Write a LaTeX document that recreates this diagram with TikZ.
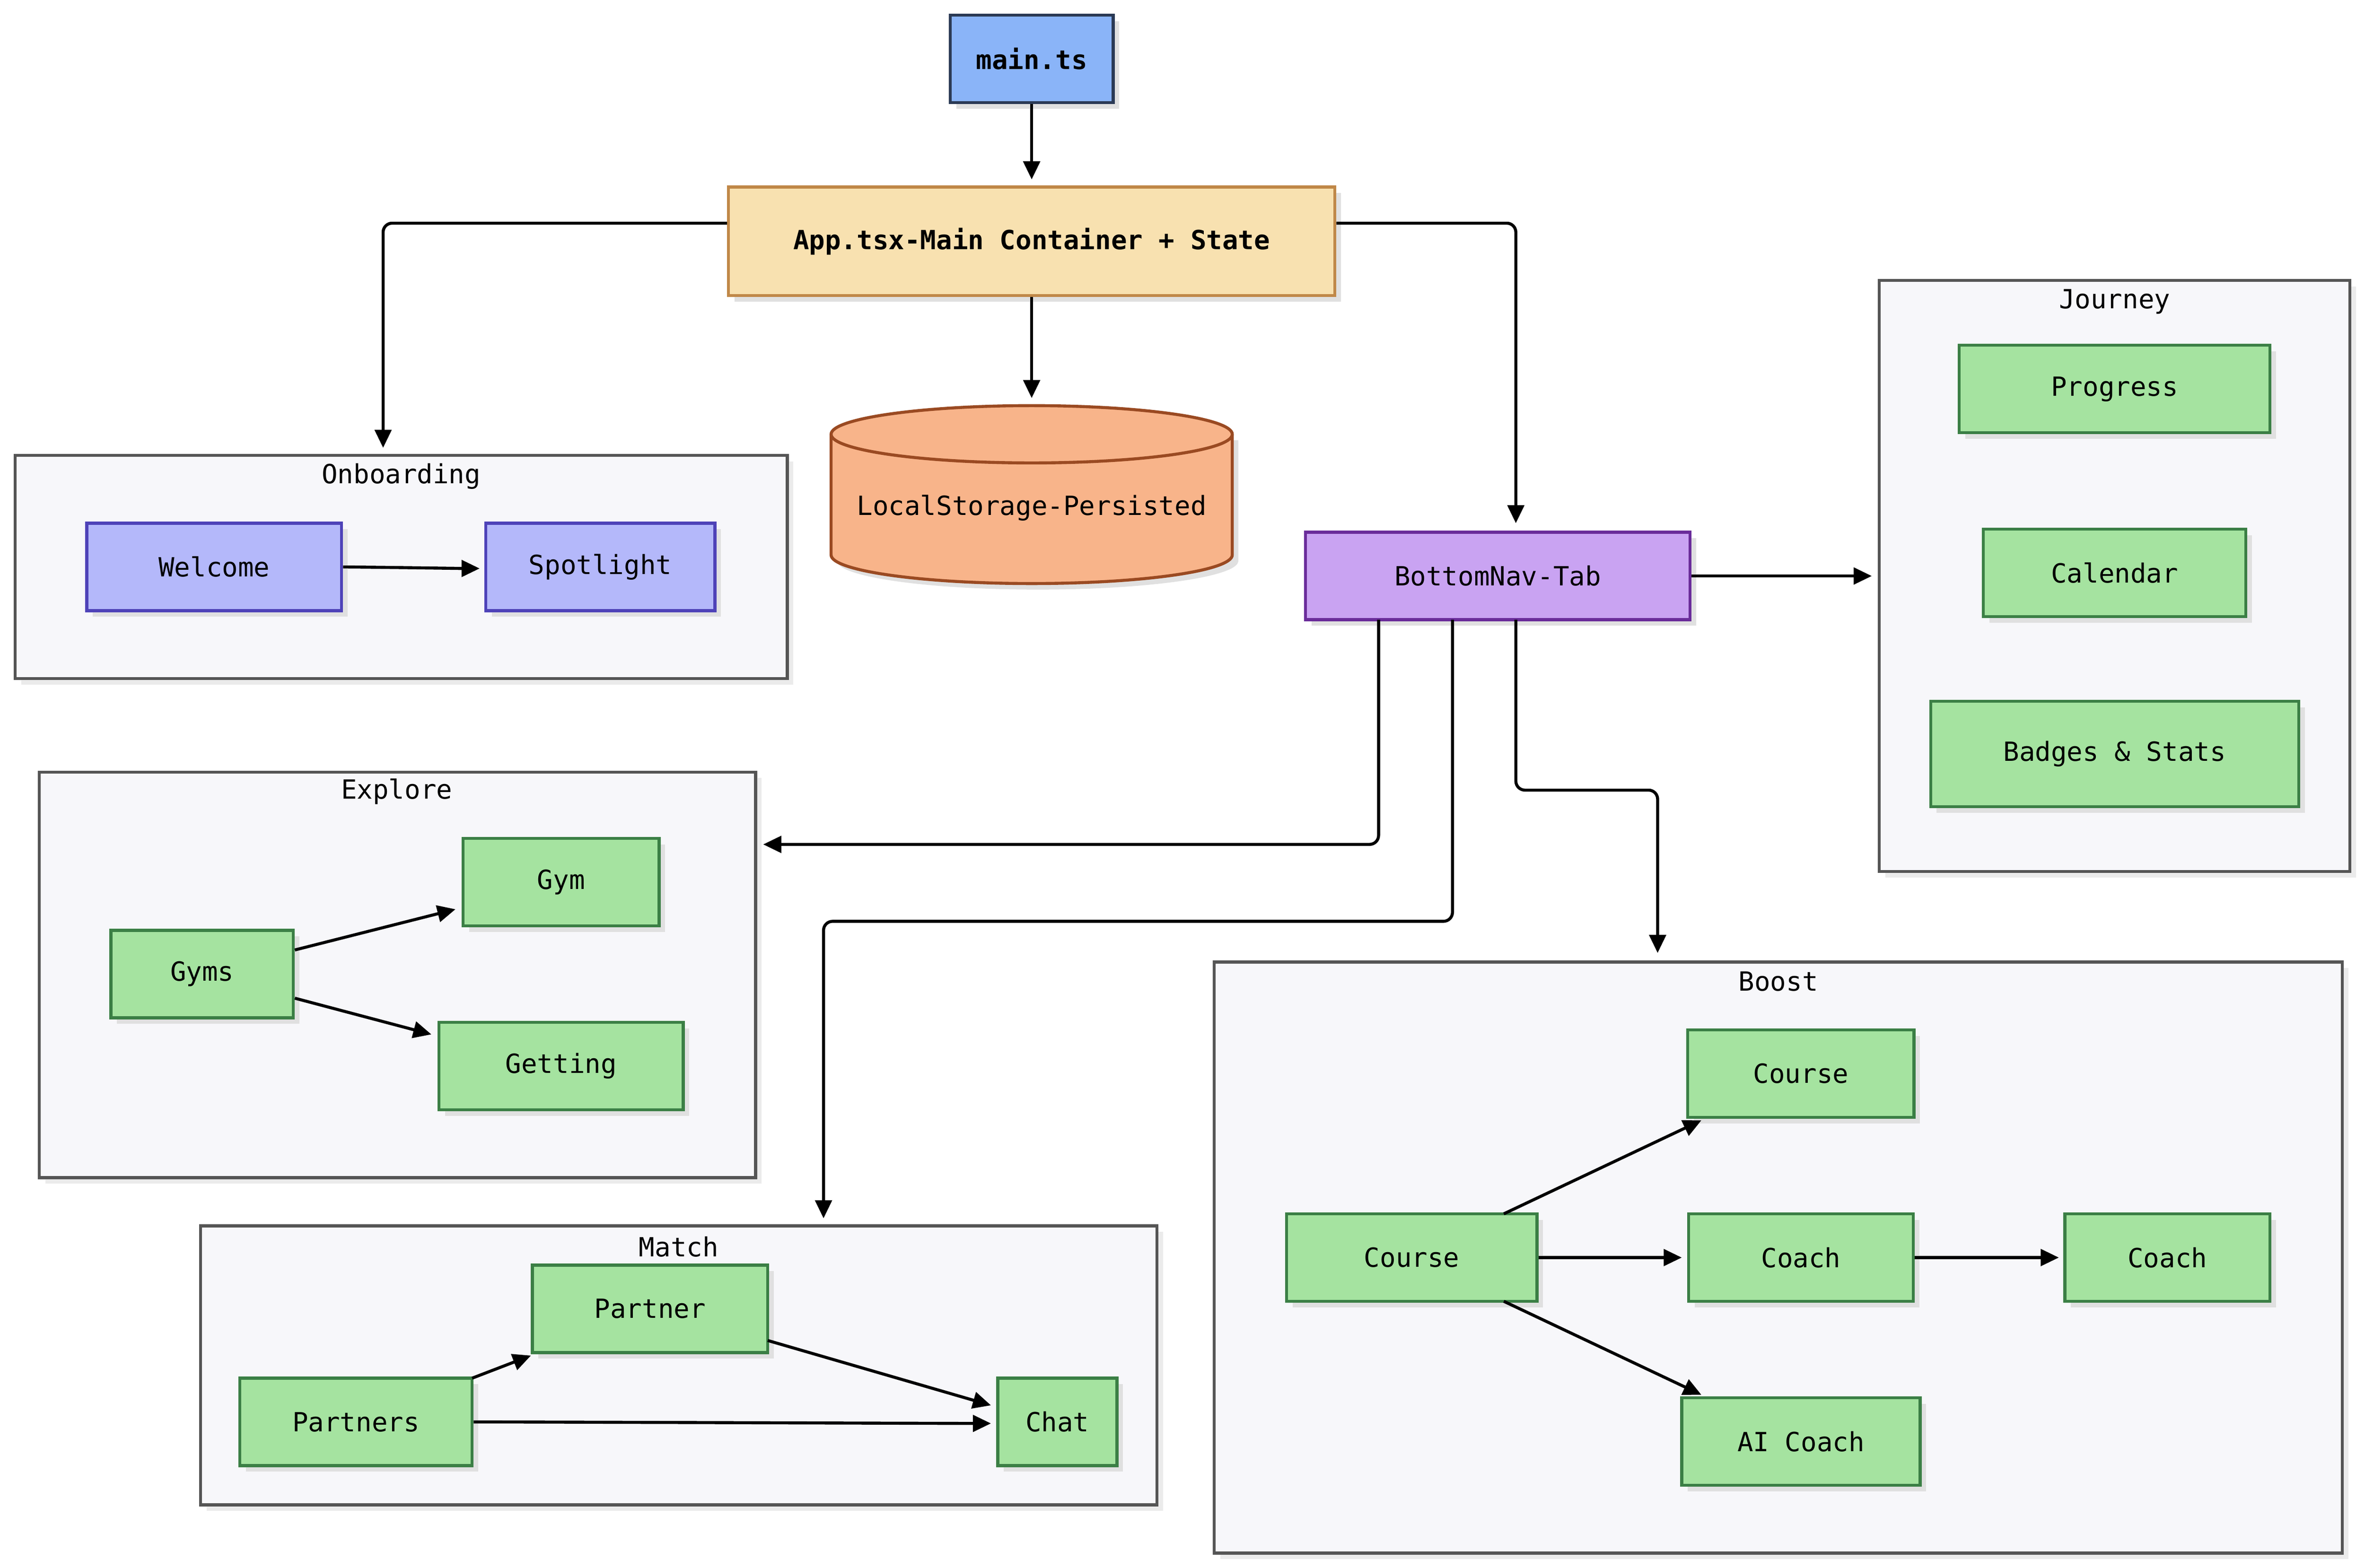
\documentclass[tikz,border=0pt]{standalone}
\usepackage{fontspec}
\setmainfont{DejaVu Sans Mono}
\usetikzlibrary{arrows.meta,shadows}
\definecolor{gfill}{HTML}{A5E3A0}\definecolor{gdraw}{HTML}{3B7F45}
\definecolor{cfill}{HTML}{F7F7FA}\definecolor{cdraw}{HTML}{555555}
\definecolor{bfill}{HTML}{8AB4F8}\definecolor{bdraw}{HTML}{2B3A55}
\definecolor{yfill}{HTML}{F8E1B0}\definecolor{ydraw}{HTML}{C08848}
\definecolor{ofill}{HTML}{F8B48A}\definecolor{odraw}{HTML}{9A4A22}
\definecolor{pfill}{HTML}{B4B8FA}\definecolor{pdraw}{HTML}{4E42B8}
\definecolor{vfill}{HTML}{C9A3F2}\definecolor{vdraw}{HTML}{6A2C9A}
\begin{document}
\begin{tikzpicture}[x=1pt,y=-1pt,
 txt/.style={font=\fontsize{17.5}{20}\selectfont},
 box/.style={txt,draw,line width=2pt,inner sep=0pt,drop shadow={shadow xshift=4pt,shadow yshift=-4pt,fill=black!12,opacity=1}},
 g/.style={box,fill=gfill,draw=gdraw},
 cl/.style={fill=cfill,draw=cdraw,line width=2pt,drop shadow={shadow xshift=4pt,shadow yshift=-4pt,fill=black!8,opacity=1}},
 ar/.style={line width=2pt,-{Triangle[length=12pt,width=11pt]},rounded corners=6pt}]
\useasboundingbox (0,0) rectangle (1568,1039.6);
% clusters
\draw[cl] (10,302) rectangle (522,450); \node[txt] (tOn) at (266,316) {Onboarding};
\draw[cl] (1246,186) rectangle (1558,578); \node[txt] (tJo) at (1402,200) {Journey};
\draw[cl] (26,512) rectangle (501,781); \node[txt] (tEx) at (263,525) {Explore};
\draw[cl] (133,813) rectangle (767,998); \node[txt] (tMa) at (450,827) {Match};
\draw[cl] (805,638) rectangle (1553,1030); \node[txt] (tBo) at (1179,651) {Boost};
\coordinate (onT) at (254,297); \coordinate (joW) at (1241,382);
\coordinate (exE) at (506,560); \coordinate (maT) at (546,808); \coordinate (boT) at (1099,632);
% main nodes
\node[box,fill=bfill,draw=bdraw,minimum width=108pt,minimum height=58pt,font=\fontsize{17.5}{20}\selectfont\bfseries] (main) at (684,39) {main.ts};
\node[box,fill=yfill,draw=ydraw,minimum width=402pt,minimum height=72pt,font=\fontsize{17.5}{20}\selectfont\bfseries] (app) at (684,160) {App.tsx-Main Container + State};
% cylinder
\fill[black!12] (555,292) -- (555,372) arc[start angle=180,end angle=0,x radius=133,y radius=19] -- (821,292) -- cycle;
\draw[fill=ofill,draw=odraw,line width=2pt] (551,288) -- (551,368) arc[start angle=180,end angle=0,x radius=133,y radius=19] -- (817,288) arc[start angle=0,end angle=-180,x radius=133,y radius=19] -- cycle;
\draw[draw=odraw,line width=2pt] (551,288) arc[start angle=180,end angle=0,x radius=133,y radius=19];
\node[txt] (ls) at (684,337) {LocalStorage-Persisted};
\coordinate (lsT) at (684,264);
\node[box,fill=vfill,draw=vdraw,minimum width=255pt,minimum height=58pt] (nav) at (993,382) {BottomNav-Tab};
\node[box,fill=pfill,draw=pdraw,minimum width=169pt,minimum height=58pt] (wel) at (142,376) {Welcome};
\node[box,fill=pfill,draw=pdraw,minimum width=152pt,minimum height=58pt] (spo) at (398,376) {Spotlight};
\node[g,minimum width=206pt,minimum height=58pt] (pro) at (1402,258) {Progress};
\node[g,minimum width=174pt,minimum height=58pt] (cal) at (1402,380) {Calendar};
\node[g,minimum width=244pt,minimum height=70pt] (bad) at (1402,500) {Badges \& Stats};
\node[g,minimum width=130pt,minimum height=58pt] (gym) at (372,585) {Gym};
\node[g,minimum width=121pt,minimum height=58pt] (gyms) at (134,646) {Gyms};
\node[g,minimum width=162pt,minimum height=58pt] (get) at (372,707) {Getting};
\node[g,minimum width=156pt,minimum height=58pt] (par) at (431,868) {Partner};
\node[g,minimum width=154pt,minimum height=58pt] (pars) at (236,943) {Partners};
\node[g,minimum width=79pt,minimum height=58pt] (chat) at (701,943) {Chat};
\node[g,minimum width=150pt,minimum height=58pt] (c1) at (1194,712) {Course};
\node[g,minimum width=166pt,minimum height=58pt] (c0) at (936,834) {Course};
\node[g,minimum width=149pt,minimum height=58pt] (co) at (1194,834) {Coach};
\node[g,minimum width=136pt,minimum height=58pt] (co2) at (1437,834) {Coach};
\node[g,minimum width=158pt,minimum height=58pt] (ai) at (1194,956) {AI Coach};
% edges
\draw[ar] (main) -- (684,119);
\draw[ar] (app) -- (lsT);
\draw[ar] (app.west|-0,148) -- (254,148) -- (onT);
\draw[ar] (app.east|-0,148) -- (1005,148) -- (1005,347);
\draw[ar] (nav) -- (joW);
\draw[ar] (914,411) -- (914,560) -- (exE);
\draw[ar] (963,411) -- (963,611) -- (546,611) -- (maT);
\draw[ar] (1005,411) -- (1005,524) -- (1099,524) -- (boT);
\draw[ar] (wel.east) to[out=0,in=180,looseness=0.3] (318,377);
\draw[ar] (gyms.east|-0,630) -- (302,603);
\draw[ar] (gyms.east|-0,662) -- (286,686);
\draw[ar] (313,914) -- (352,899);
\draw[ar] (509,889) -- (657,932);
\draw[ar] (pars.east|-0,943) to[out=0,in=180,looseness=0.2] (657,944);
\draw[ar] (997,805) -- (1128,743);
\draw[ar] (c0.east) to[out=0,in=180,looseness=0.3] (1115,834);
\draw[ar] (997,863) -- (1128,925);
\draw[ar] (co.east) to[out=0,in=180,looseness=0.3] (1365,834);
\end{tikzpicture}
\end{document}
